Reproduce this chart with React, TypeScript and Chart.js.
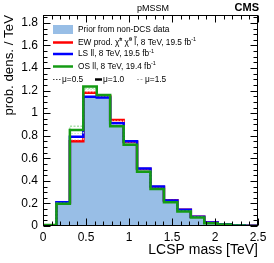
import React, { useEffect, useRef } from 'react';
import { Chart, registerables } from 'chart.js';
Chart.register(...registerables);

const binEdges = [0, 0.15625, 0.3125, 0.46875, 0.625, 0.78125, 0.9375, 1.09375, 1.25, 1.40625, 1.5625, 1.71875, 1.875, 2.03125, 2.1875, 2.34375, 2.5];
const priorValues = [0.005, 0.2, 0.74, 1.14, 1.13, 0.885, 0.74, 0.5, 0.34, 0.215, 0.138, 0.08, 0.026, 0.013, 0.005, 0.002];
const ewValues = [0.006, 0.205, 0.75, 1.18, 1.15, 0.94, 0.745, 0.505, 0.345, 0.228, 0.145, 0.083, 0.03, 0.015, 0.006, 0.002];
const lsValues = [0.006, 0.21, 0.79, 1.145, 1.138, 0.91, 0.75, 0.51, 0.35, 0.225, 0.143, 0.083, 0.03, 0.015, 0.006, 0.002];
const osValues = [0.008, 0.197, 0.85, 1.237, 1.16, 0.885, 0.72, 0.48, 0.327, 0.21, 0.128, 0.076, 0.024, 0.013, 0.004, 0.001];
const osMu15Values = [0.008, 0.2, 0.885, 1.22, 1.16, 0.89, 0.725, 0.485, 0.33, 0.212, 0.13, 0.077, 0.025, 0.013, 0.004, 0.001];
const osMu05Values = [0.008, 0.197, 0.82, 1.21, 1.155, 0.882, 0.718, 0.478, 0.325, 0.208, 0.127, 0.075, 0.024, 0.013, 0.004, 0.001];
const ewMu05Values = [0.006, 0.205, 0.765, 1.19, 1.15, 0.93, 0.745, 0.505, 0.345, 0.228, 0.145, 0.083, 0.03, 0.015, 0.006, 0.002];
const xTicks = [0, 0.5, 1, 1.5, 2, 2.5];
const yTicks = [0, 0.2, 0.4, 0.6, 0.8, 1, 1.2, 1.4, 1.6, 1.8];

const FONT = "'Liberation Sans', Arial, sans-serif";

function toSteps(values: number[]) {
  const pts = values.map((v, i) => ({ x: binEdges[i], y: v }));
  pts.push({ x: binEdges[values.length], y: values[values.length - 1] });
  return pts;
}

const framePlugin = {
  id: 'frameTicks',
  afterDatasetsDraw(chart: any) {
    const { ctx, chartArea } = chart;
    const { left, right, top, bottom } = chartArea;
    const xs = chart.scales.x;
    const ys = chart.scales.y;
    ctx.save();
    ctx.strokeStyle = '#000';
    ctx.lineWidth = 1;
    const L = Math.round(left) + 0.5, R = Math.round(right) - 0.5;
    const T = Math.round(top) + 0.5, B = Math.round(bottom) - 0.5;
    ctx.strokeRect(L, T, R - L, B - T);
    ctx.beginPath();
    for (let i = 0; i <= 25; i++) {
      const v = i * 0.1;
      const px = Math.round(xs.getPixelForValue(v)) + 0.5;
      const len = i % 5 === 0 ? 7 : 4;
      ctx.moveTo(px, B); ctx.lineTo(px, B - len);
      ctx.moveTo(px, T); ctx.lineTo(px, T + len);
    }
    for (let i = 0; i <= 37; i++) {
      const v = i * 0.05;
      if (v > ys.max) break;
      const py = Math.round(ys.getPixelForValue(v)) + 0.5;
      const len = i % 4 === 0 ? 7 : 4;
      ctx.moveTo(L, py); ctx.lineTo(L + len, py);
      ctx.moveTo(R, py); ctx.lineTo(R - len, py);
    }
    ctx.stroke();
    ctx.restore();
  },
  afterDraw(chart: any) {
    const { ctx } = chart;
    ctx.save();
    ctx.fillStyle = '#000';
    ctx.textBaseline = 'middle';
    // header
    ctx.font = `9px ${FONT}`;
    ctx.textAlign = 'center';
    ctx.fillText('pMSSM', 153, 8.5);
    ctx.font = `bold 11px ${FONT}`;
    ctx.textAlign = 'right';
    ctx.fillText('CMS', 259, 8);
    // legend
    ctx.textAlign = 'left';
    const tx = 78;
    const sx0 = 53, sx1 = 73;
    const f = `8.3px ${FONT}`;
    const fs = `5.5px ${FONT}`;
    ctx.fillStyle = 'rgb(152,190,230)';
    ctx.fillRect(sx0, 25, sx1 - sx0, 9);
    ctx.fillStyle = '#000';
    ctx.font = f;
    ctx.fillText('Prior from non-DCS data', tx, 29.5);
    const rows: [string, number][] = [['rgb(255,0,0)', 42.5], ['rgb(0,0,255)', 54], ['rgb(20,155,20)', 66.5]];
    ctx.lineWidth = 2.5;
    rows.forEach(([c, y]) => {
      ctx.strokeStyle = c;
      ctx.beginPath(); ctx.moveTo(sx0, y); ctx.lineTo(sx1, y); ctx.stroke();
    });
    // EW text with superscripts
    const parts: [string, boolean][] = [['EW prod. \u03C7\u0303', false], ['\u00B1', true], [' \u03C7\u0303', false], ['0', true], [' l\u0303, 8 TeV, 19.5 fb', false], ['-1', true]];
    let x = tx;
    parts.forEach(([t, sup]) => {
      ctx.font = sup ? fs : f;
      ctx.fillText(t, x, sup ? 39.5 : 42.5);
      x += ctx.measureText(t).width;
    });
    const simple: [string, number][] = [['LS ll, 8 TeV, 19.5 fb', 54], ['OS ll, 8 TeV, 19.4 fb', 66.5]];
    simple.forEach(([t, y]) => {
      ctx.font = f;
      ctx.fillText(t, tx, y);
      const w = ctx.measureText(t).width;
      ctx.font = fs;
      ctx.fillText('-1', tx + w, y - 3);
    });
    // mu row
    const my = 79.5;
    ctx.font = f;
    ctx.strokeStyle = '#444';
    ctx.lineWidth = 1;
    ctx.setLineDash([1.5, 1.5]);
    ctx.beginPath(); ctx.moveTo(53, my); ctx.lineTo(61, my); ctx.stroke();
    ctx.fillText('\u03BC=0.5', 62, my);
    ctx.setLineDash([]);
    ctx.strokeStyle = '#000';
    ctx.lineWidth = 2.5;
    ctx.beginPath(); ctx.moveTo(95, my); ctx.lineTo(102, my); ctx.stroke();
    ctx.fillText('\u03BC=1.0', 103, my);
    ctx.strokeStyle = '#aaa';
    ctx.lineWidth = 1;
    ctx.setLineDash([2, 1.5]);
    ctx.beginPath(); ctx.moveTo(137, my); ctx.lineTo(144, my); ctx.stroke();
    ctx.setLineDash([]);
    ctx.fillText('\u03BC=1.5', 145, my);
    ctx.restore();
  },
};

export default function App() {
  const ref = useRef<HTMLCanvasElement>(null);
  useEffect(() => {
    const base = { stepped: true, pointRadius: 0, fill: false };
    const chart = new Chart(ref.current!, {
      type: 'line',
      data: {
        datasets: [
          { ...base, label: 'Prior', data: toSteps(priorValues), fill: 'origin', backgroundColor: 'rgb(152,190,230)', borderColor: 'rgba(140,180,225,1)', borderWidth: 1, order: 10 },
          { ...base, label: 'EW', data: toSteps(ewValues), borderColor: 'rgb(255,0,0)', borderWidth: 2.5, order: 6 },
          { ...base, label: 'EW mu0.5', data: toSteps(ewMu05Values), borderColor: 'rgb(255,200,200)', borderWidth: 1.2, borderDash: [1.5, 1.5], order: 5 },
          { ...base, label: 'LS', data: toSteps(lsValues), borderColor: 'rgb(0,0,255)', borderWidth: 2.5, order: 4 },
          { ...base, label: 'OS mu1.5', data: toSteps(osMu15Values), borderColor: 'rgb(170,225,170)', borderWidth: 1.5, borderDash: [2, 1.5], order: 3 },
          { ...base, label: 'OS mu0.5', data: toSteps(osMu05Values), borderColor: 'rgb(200,235,200)', borderWidth: 1.2, borderDash: [1.5, 1.5], order: 2 },
          { ...base, label: 'OS', data: toSteps(osValues), borderColor: 'rgb(20,155,20)', borderWidth: 2.5, order: 1 },
        ],
      },
      options: {
        animation: false,
        responsive: false,
        devicePixelRatio: 1,
        layout: { padding: { left: 0, top: 15, right: 16, bottom: 0 } },
        plugins: { legend: { display: false }, tooltip: { enabled: false } },
        scales: {
          x: {
            type: 'linear', min: 0, max: 2.5,
            grid: { display: false, drawTicks: false },
            border: { display: false },
            afterBuildTicks: (s: any) => { s.ticks = xTicks.map((v) => ({ value: v })); },
            afterFit: (s: any) => { s.height = 37; },
            ticks: { padding: 4, color: '#000', font: { family: FONT, size: 12 }, maxRotation: 0, autoSkip: false, callback: (v: any) => String(v) },
            title: { display: true, text: 'LCSP mass [TeV]', align: 'end', color: '#000', font: { family: FONT, size: 14 }, padding: { top: 0, bottom: 4 } },
          },
          y: {
            type: 'linear', min: 0, max: 1.87,
            grid: { display: false, drawTicks: false },
            border: { display: false },
            afterBuildTicks: (s: any) => { s.ticks = yTicks.map((v) => ({ value: v })); },
            afterFit: (s: any) => { s.width = 43; },
            ticks: { padding: 5, color: '#000', font: { family: FONT, size: 12 }, autoSkip: false, callback: (v: any) => String(v) },
            title: { display: true, text: 'prob. dens. / TeV', align: 'end', color: '#000', font: { family: FONT, size: 13.3 }, padding: { top: 1, bottom: 0 } },
          },
        },
      },
      plugins: [framePlugin],
    } as any);
    return () => chart.destroy();
  }, []);
  return (
    <div style={{ position: 'fixed', left: 0, top: 0, width: 274, height: 263, background: '#fff' }}>
      <canvas ref={ref} width={274} height={263} />
    </div>
  );
}
